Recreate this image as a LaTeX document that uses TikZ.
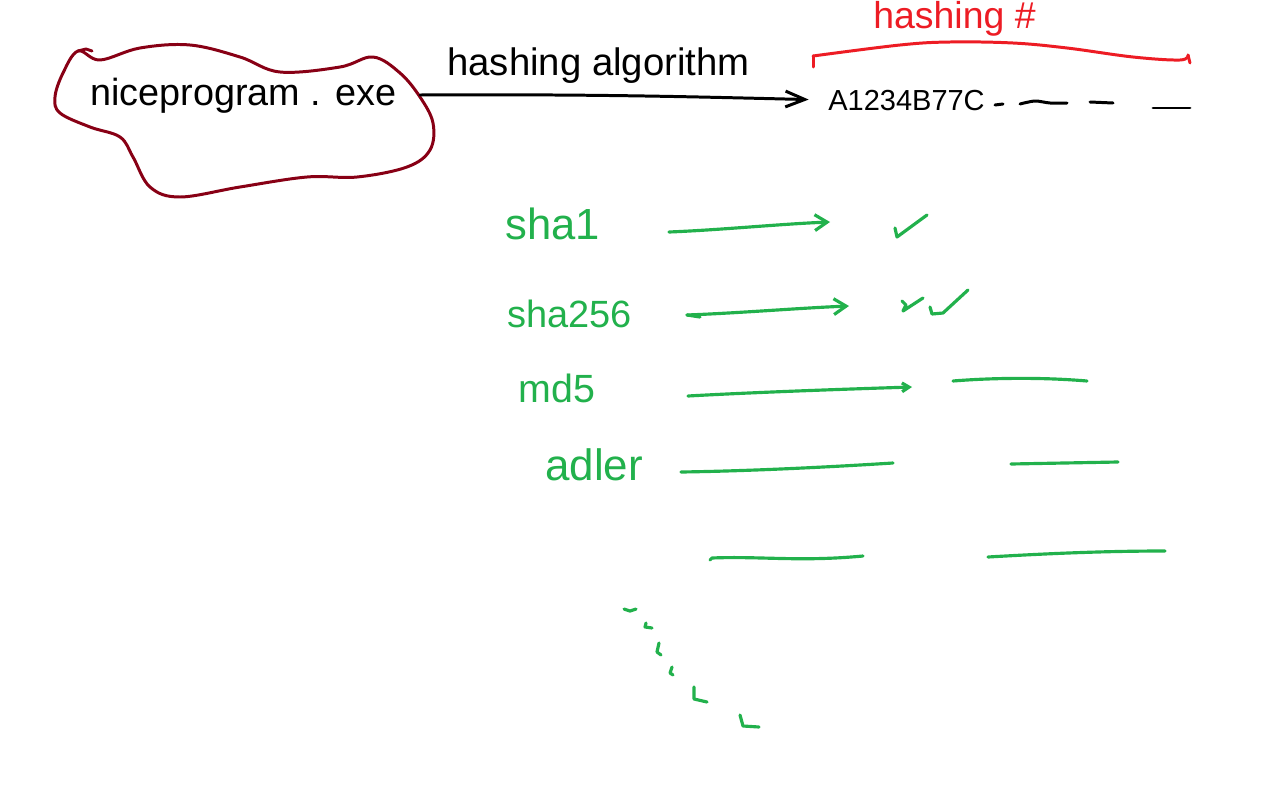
\documentclass[tikz,border=0pt]{standalone}
\usepackage{fontspec}
\setmainfont{Liberation Sans}
\usetikzlibrary{arrows.meta}
\definecolor{blobred}{RGB}{136,0,21}
\definecolor{penred}{RGB}{237,28,36}
\definecolor{pengreen}{RGB}{34,177,76}
\begin{document}
\begin{tikzpicture}[x=0.02cm,y=-0.02cm,line cap=round,line join=round,
  lbl/.style={inner sep=0pt,anchor=base west,font=\fontsize{#1}{#1}\selectfont},
  ink/.style={line width=1.7pt},
  gink/.style={line width=1.8pt,pengreen},
  barb/.style={-{Straight Barb[length=11pt,width=9pt,line width=1.7pt]}},
  gbarb/.style={-{Straight Barb[length=7pt,width=9pt,line width=1.8pt]}}]
\useasboundingbox[fill=white] (0,0) rectangle (1272,805);

% blob around the file name
\draw[blobred,ink] plot[smooth cycle,tension=0.6] coordinates {(78,51) (100,60) (140,48) (190,45) (240,57) (280,72) (340,67) (373,57) (400,73) (420,97) (433,123) (430,150) (407,167) (357,177) (307,177) (240,187) (180,197) (150,187) (133,157) (120,137) (90,127) (60,113) (55,97) (63,73)};
\draw[blobred,ink] (78,51) -- (86,49) -- (92,51);

\node[lbl=21.5] (exe) at (90,105) {niceprogram . exe};
\node[lbl=21.8] (algo) at (447,75) {hashing algorithm};
\node[lbl=16.5] (hash) at (828,110) {A1234B77C};
\node[lbl=21.3,text=penred] (hlabel) at (873,28) {hashing \#};

\coordinate (exeout) at (420,95);
\draw[ink,barb,shorten >=11pt] (exeout) .. controls (600,94) and (700,97) .. (hash.west);

% red brace
\draw[penred,ink] (813,67) -- (813,56);
\draw[penred,ink] plot[smooth,tension=0.6] coordinates {(813,56) (900,45) (950,42) (1013,43) (1067,48) (1133,57) (1180,60) (1188,55)};
\draw[penred,ink] (1188,55) -- (1190,63);

% trailing dashes of the hash
\draw[ink] (995,105) -- (1003,104);
\draw[ink] plot[smooth] coordinates {(1020,104) (1035,101) (1050,103) (1067,103)};
\draw[ink] (1090,102) -- (1113,103);
\draw[ink] (1153,108) -- (1190,108);

% green rows
\node[lbl=24.8,text=pengreen] (sha1) at (505,239) {sha1};
\node[lbl=21.6,text=pengreen] (sha256) at (507,327) {sha256};
\node[lbl=22.4,text=pengreen] (md5) at (518,402) {md5};
\node[lbl=25,text=pengreen] (adler) at (545,480) {adler};

\coordinate (a1s) at (669,232); \coordinate (a1e) at (830,222);
\draw[gink,gbarb] (a1s) .. controls (720,230) and (780,224) .. (a1e);
\draw[gink] (895,228) -- (897,237) -- (927,215);

\coordinate (a2s) at (687,315); \coordinate (a2e) at (849,306);
\draw[gink,gbarb] (a2s) .. controls (740,313) and (800,308) .. (a2e);
\draw[gink] (687,315) -- (700,317);
\draw[gink] (902,301) -- (906,305) -- (903,311) -- (923,298);
\draw[gink] (930,307) -- (932,314) -- (943,313) -- (968,290);

\coordinate (a3s) at (688,396); \coordinate (a3e) at (912,387);
\draw[gink,-{Straight Barb[length=4pt,width=5pt,line width=1.8pt]}] (a3s) .. controls (760,392) and (850,389) .. (a3e);
\coordinate (d3s) at (953,381); \coordinate (d3e) at (1087,381);
\draw[gink] (d3s) .. controls (990,378) and (1040,377) .. (d3e);

\coordinate (l4s) at (681,472); \coordinate (l4e) at (893,463);
\draw[gink] (l4s) .. controls (750,471) and (830,467) .. (l4e);
\coordinate (d4s) at (1011,464); \coordinate (d4e) at (1118,462);
\draw[gink] (d4s) -- (d4e);

\coordinate (l5s) at (710,560); \coordinate (l5e) at (863,556);
\draw[gink] (l5s) -- (712,558) .. controls (760,556) and (800,562) .. (l5e);
\coordinate (d5s) at (988,557); \coordinate (d5e) at (1165,551);
\draw[gink] (d5s) .. controls (1040,554) and (1100,551) .. (d5e);

% trailing ticks
\draw[gink] (624,609) -- (630,611) -- (636,609);
\draw[gink] (646,623) -- (645,627) -- (652,628);
\draw[gink] (659,643) -- (657,652) -- (661,655);
\draw[gink] (672,667) -- (670,673) -- (673,675);
\draw[gink] (694,687) -- (694,699) -- (707,702);
\draw[gink] (740,715) -- (743,726) -- (759,727);
\end{tikzpicture}
\end{document}
